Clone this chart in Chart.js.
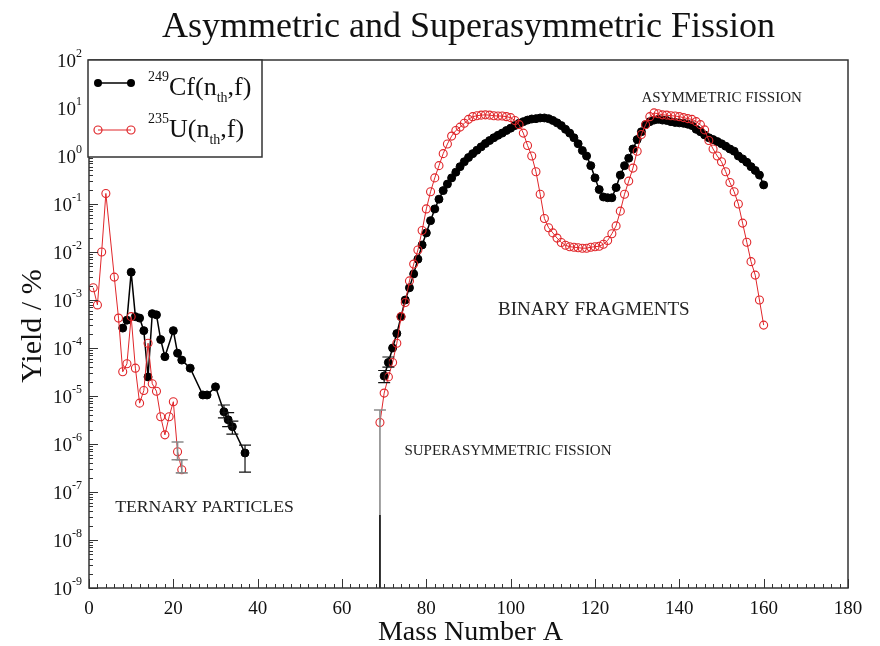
<!DOCTYPE html>
<html>
<head>
<meta charset="utf-8">
<title>Asymmetric and Superasymmetric Fission</title>
<script src="https://cdn.jsdelivr.net/npm/chart.js@4.4.1/dist/chart.umd.min.js"></script>
<style>
  html, body { margin: 0; padding: 0; background: #fff; }
  #wrap { width: 880px; height: 646px; }
</style>
</head>
<body>
<div id="wrap"><canvas id="myChart"></canvas></div>
<script>
// ---- data (yield in %) ----
// 249Cf(nth,f), ternary particles
const cfTernaryMass = [8, 9, 10, 11, 12, 13, 14, 15, 16, 17, 18, 20, 21, 22, 24, 27, 28, 30, 32, 33, 34, 37];
const cfTernaryYield = [2.6e-4, 3.8e-4, 3.8e-3, 4.5e-4, 4.2e-4, 2.3e-4, 2.5e-5, 5.2e-4, 4.9e-4, 1.5e-4, 6.6e-5,
  2.3e-4, 7.8e-5, 5.6e-5, 3.8e-5, 1.05e-5, 1.05e-5, 1.55e-5, 4.7e-6, 3.2e-6, 2.3e-6, 6.5e-7];

// 235U(nth,f), ternary particles
const uTernaryMass = [1, 2, 3, 4, 6, 7, 8, 9, 10, 11, 12, 13, 14, 15, 16, 17, 18, 19, 20, 21, 22];
const uTernaryYield = [1.8e-3, 7.9e-4, 1.0e-2, 0.166, 3.0e-3, 4.2e-4, 3.2e-5, 4.7e-5, 4.5e-4, 3.8e-5, 7.1e-6,
  1.3e-5, 1.26e-4, 1.8e-5, 1.26e-5, 3.7e-6, 1.55e-6, 3.7e-6, 7.6e-6, 6.9e-7, 2.9e-7];

// 249Cf(nth,f), binary fragments A = 70 ... 160
const cfBinaryMass = [70, 71, 72, 73, 74, 75, 76, 77, 78, 79, 80, 81, 82, 83, 84, 85, 86, 87, 88, 89,
  90, 91, 92, 93, 94, 95, 96, 97, 98, 99, 100, 101, 102, 103, 104, 105, 106, 107, 108, 109,
  110, 111, 112, 113, 114, 115, 116, 117, 118, 119, 120, 121, 122, 123, 124, 125, 126, 127, 128, 129,
  130, 131, 132, 133, 134, 135, 136, 137, 138, 139, 140, 141, 142, 143, 144, 145, 146, 147, 148, 149,
  150, 151, 152, 153, 154, 155, 156, 157, 158, 159, 160];
const cfBinaryYield = [2.6e-5, 5.0e-5, 1.0e-4, 2.0e-4, 4.5e-4, 1.0e-3, 1.8e-3, 3.5e-3, 7.1e-3, 1.4e-2,
  2.5e-2, 4.5e-2, 7.9e-2, 0.126, 0.19, 0.26, 0.35, 0.46, 0.6, 0.76,
  0.93, 1.12, 1.32, 1.55, 1.82, 2.1, 2.4, 2.7, 3.0, 3.4,
  3.8, 4.3, 4.8, 5.2, 5.6, 5.9, 6.0, 6.2, 6.2, 6.0,
  5.5, 4.9, 4.3, 3.6, 3.0, 2.4, 1.8, 1.3, 1.0, 0.63,
  0.35, 0.2, 0.14, 0.135, 0.135, 0.22, 0.4, 0.63, 0.9, 1.4,
  2.2, 3.2, 4.5, 5.2, 5.6, 5.8, 5.6, 5.5, 5.2, 5.0,
  4.9, 4.8, 4.6, 4.3, 3.6, 3.2, 2.75, 2.4, 2.2, 2.0,
  1.8, 1.6, 1.4, 1.26, 1.0, 0.87, 0.74, 0.6, 0.5, 0.4, 0.25];

// 235U(nth,f), binary fragments A = 69 ... 160
const uBinaryMass = [69, 70, 71, 72, 73, 74, 75, 76, 77, 78, 79, 80, 81, 82, 83, 84, 85, 86, 87, 88,
  89, 90, 91, 92, 93, 94, 95, 96, 97, 98, 99, 100, 101, 102, 103, 104, 105, 106, 107, 108,
  109, 110, 111, 112, 113, 114, 115, 116, 117, 118, 119, 120, 121, 122, 123, 124, 125, 126, 127, 128,
  129, 130, 131, 132, 133, 134, 135, 136, 137, 138, 139, 140, 141, 142, 143, 144, 145, 146, 147, 148,
  149, 150, 151, 152, 153, 154, 155, 156, 157, 158, 159, 160];
const uBinaryYield = [2.8e-6, 1.15e-5, 2.5e-5, 5.0e-5, 1.26e-4, 4.5e-4, 8.9e-4, 2.5e-3, 5.6e-3, 1.1e-2,
  2.8e-2, 7.9e-2, 0.18, 0.35, 0.63, 1.12, 1.78, 2.6, 3.4, 4.0,
  4.8, 5.8, 6.6, 6.9, 7.1, 7.2, 7.1, 6.9, 6.8, 6.8,
  6.6, 6.3, 5.5, 4.5, 3.0, 1.66, 1.0, 0.47, 0.16, 0.05,
  0.032, 0.025, 0.0195, 0.0158, 0.0138, 0.0129, 0.0126, 0.0123, 0.012, 0.012,
  0.0126, 0.0129, 0.0132, 0.0145, 0.0174, 0.024, 0.035, 0.071, 0.16, 0.3,
  0.56, 1.26, 2.8, 4.5, 6.6, 7.9, 7.6, 7.2, 7.1, 6.9,
  6.8, 6.6, 6.3, 6.0, 5.8, 5.2, 4.5, 3.5, 2.1, 1.4,
  1.0, 0.76, 0.47, 0.28, 0.18, 0.1, 0.04, 0.016, 6.3e-3, 3.3e-3, 1.0e-3, 3.0e-4];

// error bars
const cfErrMass = [70, 71, 32, 33, 34, 37];
const cfErrLow  = [1.9e-5, 4.0e-5, 3.5e-6, 2.3e-6, 1.6e-6, 2.6e-7];
const cfErrHigh = [3.4e-5, 6.5e-5, 6.5e-6, 4.5e-6, 3.0e-6, 9.5e-7];
const uErrMass = [21, 22, 69];
const uErrLow  = [4.7e-7, 2.5e-7, 5e-10];
const uErrHigh = [1.1e-6, 4.7e-7, 5.1e-6];
const stemMass = [69];
const stemLow  = [5e-10];
const stemHigh = [3.3e-8];

// axes
const xTicks = [0, 20, 40, 60, 80, 100, 120, 140, 160, 180];
const yTickPowers = [-9, -8, -7, -6, -5, -4, -3, -2, -1, 0, 1, 2];

const annoText = ['ASYMMETRIC FISSION', 'BINARY FRAGMENTS', 'SUPERASYMMETRIC FISSION', 'TERNARY PARTICLES'];

// ---- helpers ----
const SERIF = '"Liberation Serif", "Times New Roman", serif';
const RED = '#e0262a';

function pts(mass, vals) {
  return mass.map(function (m, i) { return { x: m, y: vals[i] }; });
}

function richText(ctx, x, y, parts) {
  parts.forEach(function (p) {
    ctx.font = p[1] + 'px ' + SERIF;
    ctx.fillText(p[0], x, y + p[2]);
    x += ctx.measureText(p[0]).width;
  });
}

// error bars drawn through the scales
const errorBarPlugin = {
  id: 'errorBars',
  afterDatasetsDraw(chart) {
    const { ctx, chartArea: a, scales: { x, y } } = chart;
    ctx.save();
    ctx.beginPath();
    ctx.rect(a.left, a.top, a.right - a.left, a.bottom - a.top);
    ctx.clip();
    function draw(mass, lo, hi, color, cap, lw) {
      ctx.strokeStyle = color;
      ctx.lineWidth = lw;
      mass.forEach(function (m, i) {
        const px = x.getPixelForValue(m);
        const p1 = y.getPixelForValue(lo[i]);
        const p2 = y.getPixelForValue(hi[i]);
        ctx.beginPath();
        ctx.moveTo(px, p1); ctx.lineTo(px, p2);
        if (cap) {
          ctx.moveTo(px - cap, p1); ctx.lineTo(px + cap, p1);
          ctx.moveTo(px - cap, p2); ctx.lineTo(px + cap, p2);
        }
        ctx.stroke();
      });
    }
    draw(uErrMass, uErrLow, uErrHigh, '#8a8a8a', 6, 1.6);
    draw(cfErrMass, cfErrLow, cfErrHigh, '#111', 6, 1.2);
    draw(stemMass, stemLow, stemHigh, '#000', 0, 1.4);
    ctx.restore();
  }
};

// frame, inward ticks, y labels, legend, title, annotations
const decorPlugin = {
  id: 'decor',
  afterDraw(chart) {
    const { ctx, chartArea: a, scales: { x, y } } = chart;
    ctx.save();

    // minor/major ticks
    ctx.strokeStyle = '#333';
    ctx.lineWidth = 1;
    for (let v = 0; v <= 180; v += 2) {
      const px = Math.round(x.getPixelForValue(v)) + 0.5;
      const len = v % 20 === 0 ? 9 : 4;
      ctx.beginPath(); ctx.moveTo(px, a.bottom); ctx.lineTo(px, a.bottom - len); ctx.stroke();
    }
    yTickPowers.forEach(function (p) {
      for (let m = 1; m <= 9; m++) {
        if (p === yTickPowers[yTickPowers.length - 1] && m > 1) break;
        const py = Math.round(y.getPixelForValue(m * Math.pow(10, p))) + 0.5;
        const len = m === 1 ? 9 : 4;
        ctx.beginPath(); ctx.moveTo(a.left, py); ctx.lineTo(a.left + len, py); ctx.stroke();
      }
    });

    // frame
    ctx.strokeStyle = '#333';
    ctx.lineWidth = 1.5;
    ctx.strokeRect(a.left, a.top, a.right - a.left, a.bottom - a.top);

    // y tick labels 10^n
    ctx.fillStyle = '#111';
    ctx.textBaseline = 'alphabetic';
    yTickPowers.forEach(function (p) {
      const py = y.getPixelForValue(Math.pow(10, p));
      const ex = String(p);
      ctx.font = '12px ' + SERIF;
      const ew = ctx.measureText(ex).width;
      const right = a.left - 7;
      ctx.textAlign = 'left';
      ctx.fillText(ex, right - ew, py - 3);
      ctx.font = '19px ' + SERIF;
      ctx.textAlign = 'right';
      ctx.fillText('10', right - ew, py + 7);
    });

    // title and axis titles
    ctx.fillStyle = '#111';
    ctx.textAlign = 'center';
    ctx.font = '36px ' + SERIF;
    ctx.fillText('Asymmetric and Superasymmetric Fission', (a.left + a.right) / 2, 37);
    ctx.font = '28px ' + SERIF;
    ctx.fillText('Mass Number A', (a.left + a.right) / 2 + 2, 640);
    ctx.save();
    ctx.translate(41, (a.top + a.bottom) / 2 + 2);
    ctx.rotate(-Math.PI / 2);
    ctx.font = '30px ' + SERIF;
    ctx.fillText('Yield / %', 0, 0);
    ctx.restore();

    // annotations
    ctx.fillStyle = '#222';
    ctx.textAlign = 'left';
    ctx.textBaseline = 'middle';
    const annoPos = [[131, 16, 15], [97, 6.2e-4, 19], [74.8, 7.1e-7, 15], [6.2, 4.7e-8, 17.7]];
    annoText.forEach(function (t, i) {
      ctx.font = annoPos[i][2] + 'px ' + SERIF;
      ctx.fillText(t, x.getPixelForValue(annoPos[i][0]), y.getPixelForValue(annoPos[i][1]));
    });

    // legend
    const lx = a.left - 1, ly = a.top, lw = 174, lh = 97;
    ctx.fillStyle = '#fff';
    ctx.fillRect(lx, ly, lw, lh);
    ctx.strokeStyle = '#333';
    ctx.lineWidth = 1.5;
    ctx.strokeRect(lx, ly, lw, lh);
    // row 1: Cf
    ctx.strokeStyle = '#000'; ctx.lineWidth = 1.5;
    ctx.beginPath(); ctx.moveTo(lx + 10, ly + 23); ctx.lineTo(lx + 43, ly + 23); ctx.stroke();
    ctx.fillStyle = '#000';
    [lx + 10, lx + 43].forEach(function (cx) {
      ctx.beginPath(); ctx.arc(cx, ly + 23, 4, 0, Math.PI * 2); ctx.fill();
    });
    // row 2: U
    ctx.strokeStyle = RED; ctx.lineWidth = 1;
    ctx.beginPath(); ctx.moveTo(lx + 10, ly + 70); ctx.lineTo(lx + 43, ly + 70); ctx.stroke();
    ctx.lineWidth = 1.2;
    [lx + 10, lx + 43].forEach(function (cx) {
      ctx.beginPath(); ctx.arc(cx, ly + 70, 4, 0, Math.PI * 2); ctx.stroke();
    });
    ctx.fillStyle = '#111';
    ctx.textBaseline = 'alphabetic';
    richText(ctx, lx + 60, ly + 35, [['249', 14, -14], ['Cf(n', 26, 0], ['th', 14, 7], [',f)', 26, 0]]);
    richText(ctx, lx + 60, ly + 77, [['235', 14, -14], ['U(n', 26, 0], ['th', 14, 7], [',f)', 26, 0]]);

    ctx.restore();
  }
};

// ---- chart ----
var ctx01 = document.getElementById('myChart');
var chart01 = new Chart(ctx01, {
  type: 'scatter',
  data: {
    datasets: [{
      label: '235U(nth,f) ternary',
      data: pts(uTernaryMass, uTernaryYield),
      showLine: true,
      borderColor: RED,
      borderWidth: 1,
      pointRadius: 4,
      pointBorderWidth: 1.1,
      pointBorderColor: RED,
      pointBackgroundColor: 'rgba(0,0,0,0)',
      order: 0
    }, {
      label: '235U(nth,f) binary',
      data: pts(uBinaryMass, uBinaryYield),
      showLine: true,
      borderColor: RED,
      borderWidth: 1,
      pointRadius: 4,
      pointBorderWidth: 1.1,
      pointBorderColor: RED,
      pointBackgroundColor: 'rgba(0,0,0,0)',
      order: 0
    }, {
      label: '249Cf(nth,f) ternary',
      data: pts(cfTernaryMass, cfTernaryYield),
      showLine: true,
      borderColor: '#000',
      borderWidth: 1.5,
      pointRadius: 4,
      pointBorderWidth: 1,
      pointBorderColor: '#000',
      pointBackgroundColor: '#000',
      order: 1
    }, {
      label: '249Cf(nth,f) binary',
      data: pts(cfBinaryMass, cfBinaryYield),
      showLine: true,
      borderColor: '#000',
      borderWidth: 1.5,
      pointRadius: 4,
      pointBorderWidth: 1,
      pointBorderColor: '#000',
      pointBackgroundColor: '#000',
      order: 1
    }]
  },
  options: {
    responsive: true,
    maintainAspectRatio: false,
    animation: false,
    devicePixelRatio: 1,
    layout: { padding: { top: 60, right: 32, left: 0, bottom: 0 } },
    plugins: {
      legend: { display: false },
      title: { display: false },
      tooltip: { enabled: false }
    },
    scales: {
      x: {
        type: 'linear',
        min: 0,
        max: 180,
        afterBuildTicks: function (s) { s.ticks = xTicks.map(function (v) { return { value: v }; }); },
        afterFit: function (s) { s.height = 58; },
        ticks: { color: '#111', padding: 2, maxRotation: 0, font: { family: SERIF, size: 19 } },
        grid: { display: false },
        border: { display: false }
      },
      y: {
        type: 'logarithmic',
        min: 1e-9,
        max: 100,
        afterBuildTicks: function (s) { s.ticks = yTickPowers.map(function (p) { return { value: Math.pow(10, p) }; }); },
        afterFit: function (s) { s.width = 89; },
        ticks: { display: false },
        grid: { display: false },
        border: { display: false }
      }
    }
  },
  plugins: [errorBarPlugin, decorPlugin]
});
</script>
</body>
</html>
